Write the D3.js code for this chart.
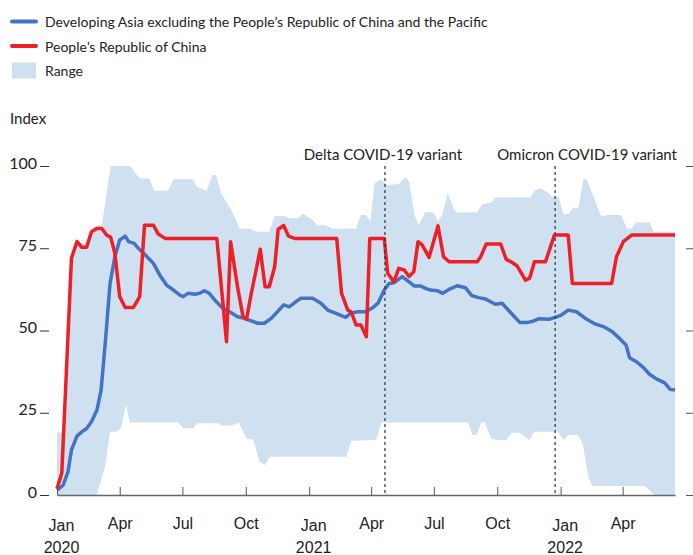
<!DOCTYPE html>
<html>
<head>
<meta charset="utf-8">
<script src="https://cdn.jsdelivr.net/npm/d3@7"></script>
<style>
body { margin: 0; background: #fff; }
svg { display: block; font-family: Lato, "Open Sans", sans-serif; }
</style>
</head>
<body>
<div id="chart"></div>
<script>
// values: [days since 1 Jan 2020, index]
var china = [[0,2],[7,6.7],[21,72],[29,77],[36,75.3],[43,75.3],[50,80],[58,81],[65,81],[72,79],[78,78.3],[84,73.5],[91,60.3],[99,57],[111,57],[120,60.3],[127,82],[140,82],[147,79.3],[157,78],
	[232,78],[246,46.6],[252,77],[262,63.3],[270,54.2],[275,53.4],[282,61.3],[289,68.4],[295,74.7],[302,63.3],[308,63.3],[316,69.4],[321,80.8],[329,81.9],[336,78.7],[345,78],
	[406,78],[413,61.3],[422,56.2],[427,55.7],[434,51.7],[441,51.7],[449,48.1],[454,78],[475,78],[480,67.4],[489,64.8],[496,68.9],[504,68.4],[511,66.4],[518,67.9],[524,77],[530,76],
	[540,72.2],[553,81.8],[561,72.4],[569,70.9],[610,70.9],[615,72.4],[623,76.3],[644,76.3],[652,71.6],[659,70.9],[668,69.6],[680,65.3],[686,65.9],[693,70.9],[709,70.9],[722,79],
	[742,79],[748,64.3],[805,64.3],[812,72.4],[822,77],[834,79],[897,79]];

var asiaExPrc = [[0,1.5],[9,3],[16,7.1],[21,13.7],[29,17.9],[36,19.2],[43,20.2],[50,22.3],[58,25.8],[64,31.9],[70,46.1],[77,64.3],[84,72.4],[91,77.5],[99,78.7],[104,77],[112,76.5],[118,75],
	[128,73],[140,70.4],[149,66.9],[159,63.8],[169,62.3],[178,60.8],[183,60.3],[190,61.3],[200,61],[207,61.3],[214,62.1],[221,61.3],[231,58.8],[241,56.7],[253,55.4],[262,54.2],[272,53.7],
	[282,52.9],[291,52.2],[301,52.2],[311,53.7],[320,55.7],[329,57.8],[337,57.2],[347,58.8],[354,59.8],[371,59.8],[383,58.3],[393,56.2],[405,55.2],[419,54],[426,55.2],[436,55.7],[448,55.7],
	[458,56.9],[466,58.3],[475,62.3],[482,64.3],[489,64.5],[501,66.4],[511,64.8],[519,63.5],[528,63.5],[535,62.8],[542,62.3],[552,62.1],[560,61.3],[569,62.5],[581,63.6],[593,63],[602,60.6],
	[612,60],[622,59.6],[636,58],[646,58.3],[653,56.7],[663,54.4],[672,52.4],[682,52.4],[692,52.9],[700,53.6],[714,53.4],[723,54],[732,54.7],[742,56.2],[754,55.7],[769,53.4],[781,52],
	[793,51.2],[805,49.8],[815,47.9],[826,45.6],[831,41.7],[841,40.5],[851,38.8],[860,36.7],[870,35.3],[882,34.1],[890,32.1],[897,31.9]];

var rangeHigh = [[0,19],[9,19],[21,73],[29,78],[36,76.5],[43,76.5],[50,81],[58,82],[65,82],[78,100],[106,100],[120,96.2],[134,96.2],[141,92.5],[161,92.5],[169,96],[197,96],[203,93.7],
	[217,92.5],[226,97.3],[231,97.3],[238,91.7],[253,86.6],[265,80.9],[280,80.9],[291,80],[308,80],[316,84.8],[330,84.8],[337,84.1],[350,84.1],[357,85.6],[371,83.6],[378,82],[390,82],
	[400,80.9],[434,80.9],[441,85.1],[448,85.1],[455,83.3],[461,94.7],[470,96],[480,94.2],[496,94.5],[505,96.6],[511,95.2],[519,85.1],[525,82],[535,86.1],[547,85.9],[553,83.1],[559,85.1],
	[567,91.9],[576,86.8],[581,85.9],[610,85.9],[617,88.4],[631,88.9],[636,90.4],[687,90.4],[694,92.7],[702,93.2],[714,91.7],[718,90.7],[728,90.7],[735,85.3],[742,85.3],[749,87.3],
	[757,87.3],[764,96],[769,96],[776,92.2],[790,84.6],[798,85.1],[819,85.1],[827,81],[834,81],[840,82.8],[860,82.8],[866,80],[897,80]];

var rangeLow = [[0,0],[58,0],[70,8.8],[77,19.2],[87,19.2],[93,20.5],[100,27.4],[106,22],[176,22],[183,20.3],[198,20.3],[203,21.8],[234,21.8],[239,21.1],[253,21.1],[264,22],[275,17.2],
	[285,16.7],[294,10.1],[302,9.1],[309,11.6],[420,11.6],[427,16.5],[463,16.7],[471,22],[597,22],[603,18.2],[609,18.2],[616,22],[621,22],[630,17.2],[638,16.7],[652,16.7],[660,18.9],
	[672,18.9],[686,16.7],[693,19.2],[727,19.2],[735,16.7],[742,18.2],[756,18.2],[763,15.7],[771,5.6],[777,2.7],[854,2.7],[867,0],[897,0]];

var yTicks = [0, 25, 50, 75, 100];
var events = [{date: "2021-04-21", label: "Delta COVID-19 variant"}, {date: "2021-12-24", label: "Omicron COVID-19 variant"}];
var legendItems = [
	{label: "Developing Asia excluding the People\u2019s Republic of China and the Pacific", type: "line", color: "#4472c4"},
	{label: "People\u2019s Republic of China", type: "line", color: "#ee1f26"},
	{label: "Range", type: "rect", color: "#cfe0f1"}
];

var width = 693, height = 555;
var start = new Date(2020, 0, 1);
var toDate = function(d) { return d3.timeDay.offset(start, d); };
var parse = d3.timeParse("%Y-%m-%d");

var svg = d3.select("#chart").append("svg")
	.attr("width", width)
	.attr("height", height);

var x = d3.scaleTime()
	.domain([start, toDate(897)])
	.range([57, 675]);

var y = d3.scaleLinear()
	.domain([0, 100])
	.range([495, 166]);

var line = d3.line()
	.x(d => x(toDate(d[0])))
	.y(d => y(d[1]));

// range band: upper edge forward, lower edge back
svg.append("path")
	.attr("d", line(rangeHigh.concat(rangeLow.slice().reverse())) + "Z")
	.attr("fill", "#cfe0f1");

svg.append("path")
	.attr("d", line(asiaExPrc))
	.attr("fill", "none")
	.attr("stroke", "#4472c4")
	.attr("stroke-width", 3.5)
	.attr("stroke-linejoin", "round");

svg.append("path")
	.attr("d", line(china))
	.attr("fill", "none")
	.attr("stroke", "#ee1f26")
	.attr("stroke-width", 3.5)
	.attr("stroke-linejoin", "round");

// event markers
var ev = svg.append("g").selectAll("g")
	.data(events)
	.enter().append("g");

ev.append("line")
	.attr("x1", d => x(parse(d.date)))
	.attr("x2", d => x(parse(d.date)))
	.attr("y1", y(100))
	.attr("y2", y(0))
	.attr("stroke", "#333")
	.attr("stroke-width", 1.2)
	.attr("stroke-dasharray", "3,3");

ev.append("text")
	.attr("x", (d, i) => i == 0 ? x(parse(d.date)) - 2 : 677)
	.attr("y", 160)
	.attr("text-anchor", (d, i) => i == 0 ? "middle" : "end")
	.style("font-size", "15px")
	.style("fill", "#222")
	.text(d => d.label);

// x axis
var xTicks = d3.timeMonth.every(3).range(start, toDate(898));
var xAxis = svg.append("g")
	.attr("transform", "translate(0," + y(0) + ")")
	.call(d3.axisBottom(x).tickValues(xTicks).tickSizeInner(-8).tickSizeOuter(0).tickFormat(""));

xAxis.select(".domain").attr("stroke", "#666").attr("stroke-width", 1.5);
xAxis.selectAll(".tick line").attr("stroke", "#555");

var xLab = xAxis.selectAll(".tick").append("text")
	.attr("fill", "#222")
	.attr("text-anchor", "middle")
	.style("font-size", "16px")
	.attr("x", d => d.getMonth() == 0 ? 4 : 0);

xLab.append("tspan")
	.attr("x", d => d.getMonth() == 0 ? 4 : 0)
	.attr("y", d => d.getMonth() == 0 ? 36 : 34)
	.text(d3.timeFormat("%b"));

xLab.filter(d => d.getMonth() == 0).append("tspan")
	.attr("x", 4)
	.attr("y", 58)
	.text(d3.timeFormat("%Y"));

// y axis, left with labels and right without
var yAxis = svg.append("g")
	.attr("transform", "translate(49,0)")
	.call(d3.axisLeft(y).tickValues(yTicks).tickSize(9).tickPadding(3));

yAxis.select(".domain").remove();
yAxis.selectAll(".tick line").attr("stroke", "#333");
yAxis.selectAll(".tick text")
	.attr("dy", 2)
	.attr("fill", "#222")
	.style("font-size", "16px")
	.style("font-family", "Lato, sans-serif");

var yRight = svg.append("g")
	.attr("transform", "translate(686,0)")
	.call(d3.axisRight(y).tickValues(yTicks).tickSize(7).tickFormat(""));

yRight.select(".domain").remove();
yRight.selectAll(".tick line").attr("stroke", "#555");

svg.append("text")
	.attr("x", 10)
	.attr("y", 124)
	.style("font-size", "15px")
	.style("fill", "#222")
	.text("Index");

// legend
var legend = svg.append("g").selectAll("g")
	.data(legendItems)
	.enter().append("g")
	.attr("transform", (d, i) => "translate(12," + (21.5 + i * 24.5) + ")");

legend.filter(d => d.type == "line").append("line")
	.attr("x1", 0)
	.attr("x2", 24)
	.attr("stroke", d => d.color)
	.attr("stroke-width", 4)
	.attr("stroke-linecap", "round");

legend.filter(d => d.type == "rect").append("rect")
	.attr("x", 0)
	.attr("y", -8)
	.attr("width", 24)
	.attr("height", 16)
	.attr("fill", d => d.color);

legend.append("text")
	.attr("x", 33)
	.attr("y", 5.5)
	.style("font-size", "14px")
	.style("fill", "#222")
	.text(d => d.label);
</script>
</body>
</html>
